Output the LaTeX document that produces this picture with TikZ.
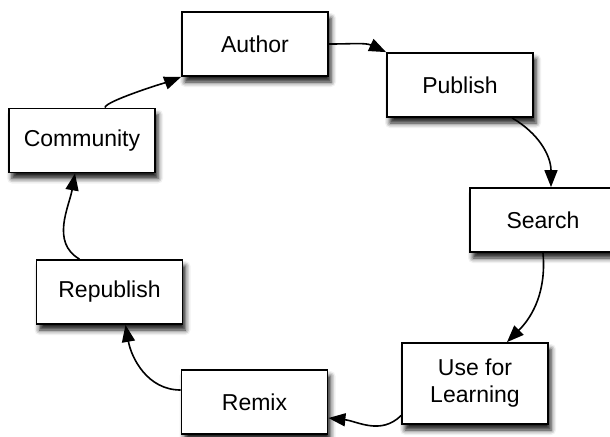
\documentclass[tikz,border=0pt]{standalone}
\usepackage{fontspec}
\setmainfont{Liberation Sans}
\usepackage{tikz}
\usetikzlibrary{shapes,arrows.meta,positioning,shadows.blur}

\begin{document}
\begin{tikzpicture}[
    x=0.5pt, y=-0.5pt,
    box/.style={rectangle, draw, line width=0.9pt, fill=white, minimum width=73pt, minimum height=32pt, text centered, align=center,
        font=\fontsize{11.5}{13.5}\selectfont,
        blur shadow={shadow xshift=1.5pt, shadow yshift=-3pt, shadow blur radius=2.5pt, shadow opacity=90}},
    arrow/.style={-{Triangle[length=8.5pt,width=6.5pt]}, line width=0.8pt}
]
    \useasboundingbox (0,0) rectangle (610,436);

    \node[box] (author) at (255,44) {Author};
    \node[box] (publish) at (460,85) {Publish};
    \node[box] (search) at (543,220) {Search};
    \node[box, minimum height=40.5pt] (learning) at (475,383.5) {Use for\\Learning};
    \node[box] (remix) at (254.5,402) {Remix};
    \node[box] (republish) at (109.5,292) {Republish};
    \node[box] (community) at (82,140.5) {Community};

    \draw[arrow] ([xshift=11.5pt]community.north) to[out=100,in=201,looseness=0.2] (author.south west);
    \draw[arrow] (author.east) to[out=0,in=155] (publish.north west);
    \draw[arrow] ([xshift=26pt]publish.south) to[out=-30,in=90] ([xshift=4pt]search.north);
    \draw[arrow] (search.south) to[out=-85,in=45] ([xshift=16pt]learning.north);
    \draw[arrow] ([yshift=-16pt]learning.west) to[out=225,in=-6] ([yshift=-8pt]remix.east);
    \draw[arrow] ([yshift=6pt]remix.west) to[out=180,in=-80] ([xshift=8pt]republish.south);
    \draw[arrow] ([xshift=-15pt]republish.north) to[out=150,in=-100] ([xshift=-3.5pt]community.south);
\end{tikzpicture}
\end{document}
